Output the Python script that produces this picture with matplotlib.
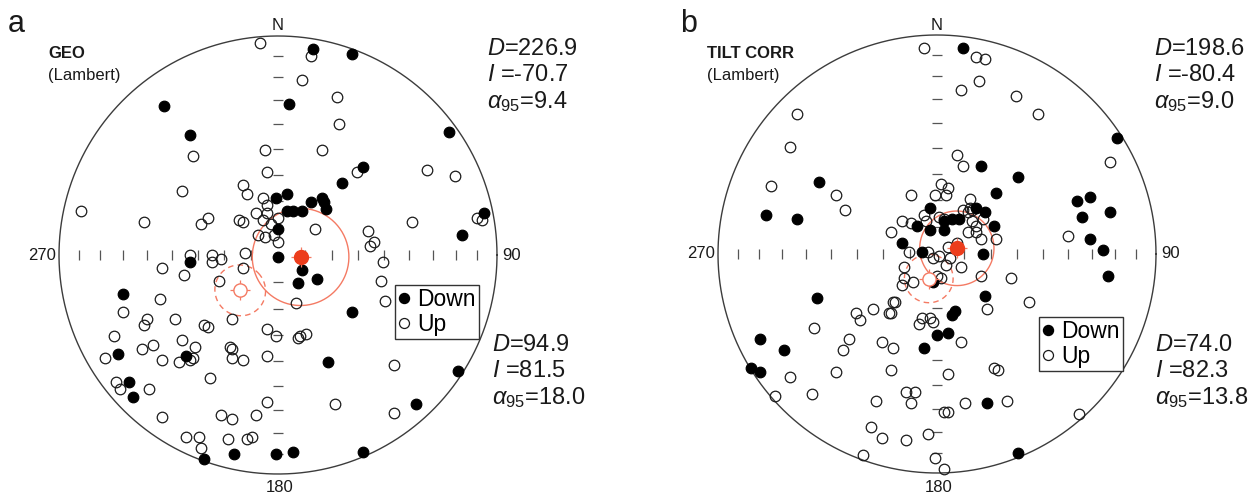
import numpy as np
import matplotlib
matplotlib.use("Agg")
import matplotlib.pyplot as plt
from matplotlib.lines import Line2D

plt.rcParams['font.family'] = ['Liberation Sans', 'DejaVu Sans']
plt.rcParams['mathtext.fontset'] = 'custom'
plt.rcParams['mathtext.rm'] = 'Liberation Sans'
plt.rcParams['mathtext.it'] = 'Liberation Sans:italic'

# site directions in Lambert equal-area coordinates (x = east, y = north,
# primitive circle radius = 1)
geo_down = [
    (-0.52, 0.68), (-0.40, 0.55), (-0.01, 0.26), (0.16, 0.94), (0.34, 0.92),
    (0.05, 0.69), (0.78, 0.56), (0.39, 0.40), (0.29, 0.33), (0.94, 0.19),
    (0.84, 0.09), (0.04, 0.28), (0.15, 0.24), (0.20, 0.26), (0.21, 0.24),
    (0.22, 0.21), (0.04, 0.20), (0.07, 0.20), (0.11, 0.20), (0.00, 0.12),
    (0.00, -0.01), (0.11, -0.07), (0.09, -0.13), (0.18, -0.11), (0.34, -0.26),
    (-0.40, -0.03), (-0.71, -0.18), (-0.73, -0.45), (-0.42, -0.46), (-0.68, -0.58),
    (-0.66, -0.65), (-0.34, -0.93), (-0.20, -0.91), (-0.01, -0.91), (0.23, -0.49),
    (0.82, -0.53), (0.63, -0.68), (0.07, -0.90), (0.39, -0.90),
]
geo_up = [
    (-0.08, 0.97), (0.15, 0.91), (0.11, 0.80), (0.27, 0.72), (0.28, 0.60),
    (-0.39, 0.45), (-0.06, 0.48), (-0.05, 0.38), (0.20, 0.48), (-0.44, 0.29),
    (-0.16, 0.32), (-0.14, 0.28), (-0.07, 0.26), (-0.05, 0.23), (-0.90, 0.20),
    (-0.61, 0.15), (-0.35, 0.14), (-0.32, 0.17), (-0.18, 0.16), (-0.16, 0.15),
    (-0.10, 0.19), (-0.05, 0.19), (-0.07, 0.16), (0.00, 0.17), (-0.03, 0.14),
    (0.17, 0.12), (-0.09, 0.09), (-0.06, 0.08), (-0.02, 0.09), (0.00, 0.06),
    (-0.15, 0.01), (-0.40, 0.00), (-0.30, 0.00), (-0.30, -0.03), (-0.26, -0.02),
    (0.36, 0.38), (0.68, 0.39), (0.81, 0.36), (0.93, 0.16), (0.91, 0.17),
    (0.61, 0.15), (0.41, 0.11), (0.44, 0.06), (0.42, 0.04), (0.48, -0.03),
    (-0.16, -0.06), (-0.27, -0.12), (0.08, -0.22), (-0.53, -0.06), (-0.43, -0.09),
    (-0.54, -0.20), (-0.71, -0.26), (-0.60, -0.29), (-0.61, -0.32), (-0.47, -0.29),
    (-0.34, -0.32), (-0.32, -0.33), (-0.21, -0.29), (-0.05, -0.34), (-0.01, -0.37),
    (-0.75, -0.37), (-0.62, -0.43), (-0.57, -0.41), (-0.44, -0.39), (-0.38, -0.42),
    (-0.79, -0.47), (-0.39, -0.47), (-0.40, -0.48), (-0.53, -0.48), (-0.45, -0.49),
    (-0.22, -0.42), (-0.21, -0.43), (-0.21, -0.47), (-0.16, -0.48), (-0.05, -0.46),
    (-0.31, -0.56), (-0.74, -0.58), (-0.72, -0.61), (-0.59, -0.61), (-0.05, -0.67),
    (-0.53, -0.74), (-0.26, -0.73), (-0.21, -0.75), (-0.10, -0.73), (-0.42, -0.83),
    (-0.36, -0.83), (-0.35, -0.88), (-0.23, -0.84), (-0.14, -0.84), (-0.12, -0.83),
    (0.47, -0.12), (0.49, -0.21), (0.09, -0.38), (0.10, -0.37), (0.13, -0.36),
    (0.53, -0.50), (0.26, -0.68), (0.53, -0.72),
]
tilt_down = [
    (-0.54, 0.33), (-0.78, 0.18), (-0.64, 0.16), (-0.09, 0.13), (-0.03, 0.21),
    (-0.16, 0.05), (-0.03, 0.11), (-0.07, 0.01), (0.12, 0.94), (0.82, 0.53),
    (0.20, 0.40), (0.37, 0.35), (0.27, 0.28), (0.64, 0.24), (0.70, 0.26),
    (0.66, 0.17), (0.79, 0.19), (0.70, 0.07), (0.76, 0.02), (0.21, 0.00),
    (0.18, 0.21), (0.22, 0.19), (0.03, 0.15), (0.07, 0.16), (0.10, 0.16),
    (0.03, 0.11), (0.26, 0.13), (-0.02, -0.13), (0.22, -0.19), (0.08, -0.26),
    (0.07, -0.28), (-0.55, -0.20), (0.05, -0.36), (0.00, -0.37), (-0.06, -0.43),
    (-0.81, -0.39), (-0.70, -0.44), (-0.85, -0.52), (-0.81, -0.54), (0.78, -0.10),
    (0.23, -0.68), (0.37, -0.91),
]
tilt_up = [
    (-0.06, 0.94), (-0.64, 0.64), (-0.67, 0.49), (-0.76, 0.31), (-0.46, 0.27),
    (-0.42, 0.20), (-0.12, 0.27), (0.02, 0.32), (0.05, 0.30), (-0.01, 0.27),
    (0.04, 0.27), (-0.16, 0.15), (-0.12, 0.14), (-0.06, 0.18), (-0.05, 0.15),
    (-0.21, 0.10), (-0.13, 0.01), (0.18, 0.90), (0.22, 0.89), (0.19, 0.79),
    (0.11, 0.75), (0.36, 0.72), (0.46, 0.64), (0.79, 0.42), (0.09, 0.45),
    (0.12, 0.40), (0.60, 0.08), (0.15, 0.25), (0.15, 0.21), (0.12, 0.20),
    (0.14, 0.19), (0.16, 0.20), (0.01, 0.17), (0.03, 0.16), (0.16, 0.15),
    (0.18, 0.13), (0.21, 0.16), (0.14, 0.10), (0.18, 0.10), (0.20, 0.07),
    (0.27, 0.07), (0.09, 0.05), (0.05, 0.03), (-0.04, 0.01), (-0.02, -0.02),
    (0.01, -0.01), (0.06, -0.02), (0.04, -0.05), (0.11, -0.06), (-0.15, -0.06),
    (-0.15, -0.11), (-0.11, -0.13), (-0.16, -0.14), (0.02, -0.11), (0.20, -0.10),
    (0.34, -0.11), (0.23, -0.25), (-0.29, -0.25), (-0.20, -0.22), (-0.03, -0.29),
    (-0.07, -0.29), (0.42, -0.22), (-0.19, -0.22), (-0.37, -0.27), (-0.35, -0.30),
    (-0.22, -0.27), (-0.21, -0.27), (-0.08, -0.32), (-0.02, -0.31), (-0.56, -0.34),
    (-0.40, -0.39), (-0.43, -0.44), (-0.25, -0.40), (-0.20, -0.43), (-0.67, -0.56),
    (-0.46, -0.54), (-0.21, -0.53), (0.05, -0.55), (-0.74, -0.65), (-0.57, -0.64),
    (-0.28, -0.67), (-0.14, -0.63), (-0.10, -0.63), (-0.12, -0.68), (0.05, -0.72),
    (0.03, -0.72), (-0.30, -0.79), (-0.25, -0.84), (-0.14, -0.85), (-0.04, -0.82),
    (-0.34, -0.92), (-0.01, -0.93), (0.03, -0.98), (0.11, -0.40), (0.26, -0.52),
    (0.28, -0.53), (0.13, -0.68), (0.32, -0.67), (0.65, -0.73), (0.00, -0.10),
]

# Fisher means: declination, inclination, alpha95
geo_mean_down = (94.9, 81.5, 18.0)
geo_mean_up = (226.9, -70.7, 9.4)
tilt_mean_down = (74.0, 82.3, 13.8)
tilt_mean_up = (198.6, -80.4, 9.0)

W, H, R = 1258, 500, 219.0
RED_LINE = '#f47a63'
RED_FILL = '#ec3d1c'


def lambert(dec, inc):
    dec = np.radians(dec)
    r = np.sqrt(2) * np.sin(np.radians(90 - np.abs(inc)) / 2)
    return r * np.sin(dec), r * np.cos(dec)


def cone(dec, inc, a95, n=240):
    D, I, a = np.radians([dec, abs(inc), a95])
    m = np.array([np.cos(I) * np.cos(D), np.cos(I) * np.sin(D), np.sin(I)])
    u = np.array([-np.sin(I) * np.cos(D), -np.sin(I) * np.sin(D), np.cos(I)])
    v = np.cross(m, u)
    t = np.linspace(0, 2 * np.pi, n)
    p = np.cos(a) * m[:, None] + np.sin(a) * (np.cos(t) * u[:, None] + np.sin(t) * v[:, None])
    pdec = np.degrees(np.arctan2(p[1], p[0]))
    pinc = np.degrees(np.arcsin(np.clip(p[2], -1, 1)))
    return lambert(pdec, pinc)


def stereonet(fig, cx, cy, x0, x1, down, up, mean_down, mean_up, legend_at):
    ax = fig.add_axes([x0 / W, 0, (x1 - x0) / W, 1])
    ax.set_xlim((x0 - cx) / R, (x1 - cx) / R)
    ax.set_ylim((cy - H) / R, cy / R)
    ax.axis('off')

    t = np.linspace(0, 2 * np.pi, 400)
    ax.plot(np.cos(t), np.sin(t), color='#3c3c3c', lw=1.0, zorder=1)

    # inclination ticks every 10 degrees along the N-S and E-W axes
    r = np.sqrt(2) * np.sin(np.radians(90 - np.arange(10, 90, 10)) / 2)
    rr = np.concatenate([r, -r])
    ax.vlines(rr, -0.024, 0.024, color='#555555', lw=0.9, zorder=1)
    ax.hlines(rr, -0.024, 0.024, color='#555555', lw=0.9, zorder=1)

    # confidence cones
    x, y = cone(*mean_down)
    ax.plot(x, y, color=RED_LINE, lw=1.0, zorder=2)
    x, y = cone(*mean_up)
    ax.plot(x, y, color=RED_LINE, lw=1.0, ls=(0, (4, 3)), zorder=2)

    d = np.array(down)
    u = np.array(up)
    ax.plot(u[:, 0], u[:, 1], 'o', ms=7.6, mfc='none', mec='#1a1a1a', mew=0.9, zorder=3)
    ax.plot(d[:, 0], d[:, 1], 'o', ms=7.6, mfc='black', mec='black', mew=0.9, zorder=3)

    # mean directions
    mx, my = lambert(mean_down[0], mean_down[1])
    ax.plot(mx, my, '+', ms=15, mew=0.9, color=RED_LINE, zorder=4)
    ax.plot(mx, my, 'o', ms=10, mfc=RED_FILL, mec=RED_FILL, zorder=5)
    mx, my = lambert(mean_up[0], mean_up[1])
    ax.plot(mx, my, '+', ms=15, mew=0.9, color=RED_LINE, zorder=4)
    ax.plot(mx, my, 'o', ms=9.5, mfc='white', mec=RED_LINE, mew=1.0, zorder=5)

    handles = [
        Line2D([], [], marker='o', ls='none', ms=7.2, mfc='black', mec='black'),
        Line2D([], [], marker='o', ls='none', ms=7.2, mfc='none', mec='#1a1a1a', mew=0.9),
    ]
    leg = ax.legend(handles, ['Down', 'Up'], loc='upper left',
                    bbox_to_anchor=((legend_at[0] - cx) / R, (cy - legend_at[1]) / R),
                    bbox_transform=ax.transData, fontsize=16.5, frameon=True,
                    fancybox=False, edgecolor='#333333', framealpha=1,
                    handlelength=0.5, handletextpad=0.3, borderpad=0.15,
                    labelspacing=0.05, borderaxespad=0)
    leg.get_frame().set_linewidth(1.0)
    return ax


def ftext(fig, x, y, s, **kw):
    fig.text(x / W, 1 - y / H, s, color='#1a1a1a', **kw)


def stats_block(fig, x, y0, dec, inc, a95):
    ftext(fig, x, y0, r'$D$=%.1f' % dec, fontsize=17, va='baseline')
    ftext(fig, x, y0 + 26, r'$I$ =%.1f' % inc, fontsize=17, va='baseline')
    ftext(fig, x, y0 + 53, r'$\alpha_{\mathrm{95}}$=%.1f' % a95, fontsize=17, va='baseline')


fig = plt.figure(figsize=(W / 100, H / 100), dpi=100)

panels = [
    # label, title, cx, cy, x0, x1, down, up, mean_down, mean_up, legend,
    # label x, title x, upper stats x, lower stats x
    ('a', 'GEO', 278, 255, 0, 620, geo_down, geo_up, geo_mean_down, geo_mean_up,
     (395, 285), 8, 48, 487, 492),
    ('b', 'TILT CORR', 937, 254, 620, 1258, tilt_down, tilt_up, tilt_mean_down,
     tilt_mean_up, (1039, 317), 680, 707, 1154, 1155),
]

for (lab, title, cx, cy, x0, x1, down, up, md, mu, leg_at, lx, tx, sx_up, sx_dn) in panels:
    stereonet(fig, cx, cy, x0, x1, down, up, md, mu, leg_at)
    ftext(fig, lx, 32, lab, fontsize=22, va='baseline')
    ftext(fig, tx, 58, title, fontsize=12, fontweight='bold', va='baseline')
    ftext(fig, tx, 80, '(Lambert)', fontsize=12, va='baseline')
    ftext(fig, cx, 30, 'N', fontsize=12, ha='center', va='baseline')
    ftext(fig, cx + 2, 480, '180', fontsize=12, ha='center', va='top')
    ftext(fig, cx - R - 3, cy, '270', fontsize=12, ha='right', va='center')
    ftext(fig, cx + R + 5, cy, '90', fontsize=12, ha='left', va='center')
    stats_block(fig, sx_up, 55, *mu)
    stats_block(fig, sx_dn, 351, *md)

fig.savefig('out.png', dpi=100)
